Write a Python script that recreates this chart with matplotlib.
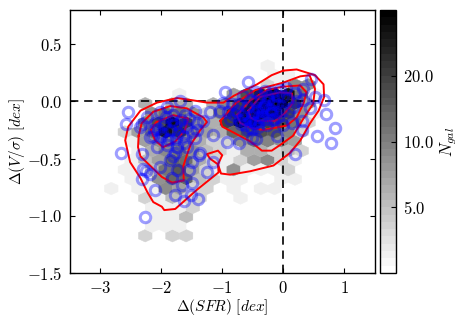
import numpy as np
import matplotlib
matplotlib.use('Agg')
import matplotlib.pyplot as plt
from matplotlib.colors import LogNorm

plt.rcParams['mathtext.fontset'] = 'cm'
plt.rcParams['font.family'] = ['cmr10', 'DejaVu Sans']
plt.rcParams['axes.formatter.use_mathtext'] = True

# hexagon counts, one entry per row of the grid
row_y = [-1.174, -1.091, -1.009, -0.926, -0.843, -0.761, -0.678, -0.596, -0.513,
         -0.430, -0.348, -0.265, -0.183, -0.100, -0.017, 0.065, 0.148, 0.230, 0.313]
row_x = [
    [-2.262, -1.816, -1.593],
    [-2.151, -1.928, -1.705],
    [-2.039, -1.816, -1.593],
    [-2.151, -1.928, -1.705, -1.482],
    [-2.262, -2.039, -1.816, -1.593, -1.370, -0.701],
    [-2.820, -2.373, -2.151, -1.928, -1.705, -1.482, -1.259, -0.813, -0.367, -0.144],
    [-2.485, -2.262, -2.039, -1.816, -1.593, -1.370, -1.147, -0.924, -0.701, -0.032, 0.191],
    [-2.597, -2.373, -2.151, -1.928, -1.705, -1.482, -1.259, -1.036, -0.813, -0.590, -0.367, -0.144, 0.079],
    [-2.485, -2.262, -2.039, -1.816, -1.593, -1.370, -1.147, -0.924, -0.701, -0.478, -0.255, -0.032, 0.191],
    [-2.373, -2.151, -1.928, -1.705, -1.482, -1.259, -1.036, -0.813, -0.590, -0.367, -0.144, 0.079, 0.302],
    [-2.485, -2.262, -2.039, -1.816, -1.593, -1.370, -1.147, -0.924, -0.701, -0.478, -0.255, -0.032, 0.191],
    [-2.597, -2.373, -2.151, -1.928, -1.705, -1.482, -1.259, -1.036, -0.813, -0.590, -0.367, -0.144, 0.079, 0.302],
    [-2.262, -2.039, -1.816, -1.593, -1.370, -1.147, -0.924, -0.701, -0.478, -0.255, -0.032, 0.191, 0.414],
    [-2.151, -1.928, -1.705, -1.482, -1.259, -1.036, -0.813, -0.590, -0.367, -0.144, 0.079, 0.302, 0.525],
    [-2.262, -1.816, -1.593, -1.147, -0.924, -0.701, -0.478, -0.255, -0.032, 0.191, 0.414],
    [-1.705, -0.813, -0.590, -0.367, -0.144, 0.079, 0.302, 0.525],
    [-0.255, -0.032, 0.191, 0.414],
    [-0.144, 0.079],
    [-0.144],
]
row_n = [
    [4, 4, 4],
    [3, 3, 3],
    [3, 3, 5],
    [3, 3, 3, 4],
    [4, 3, 5, 4, 4, 3],
    [3, 3, 3, 9, 7, 4, 4, 3, 3, 3],
    [3, 3, 8, 13, 13, 5, 4, 3, 3, 3, 3],
    [3, 3, 5, 11, 15, 7, 4, 3, 8, 3, 3, 3, 4],
    [3, 5, 7, 13, 12, 6, 4, 3, 4, 7, 9, 4, 3],
    [3, 6, 9, 11, 8, 5, 4, 3, 6, 6, 4, 5, 4],
    [3, 7, 8, 10, 9, 6, 4, 4, 8, 11, 10, 8, 7],
    [4, 7, 11, 30, 22, 10, 7, 6, 13, 17, 17, 15, 10, 4],
    [10, 17, 33, 19, 8, 6, 19, 33, 33, 19, 18, 11, 4],
    [8, 11, 11, 8, 4, 10, 22, 33, 36, 33, 18, 8, 3],
    [6, 6, 6, 6, 9, 19, 30, 36, 38, 19, 7],
    [3, 7, 17, 26, 36, 30, 11, 3],
    [4, 3, 9, 8],
    [3, 3],
    [3],
]

# galaxies, left group then right group
gal_x = [-2.55, -2.58, -2.66, -2.32, -1.70, -2.25, -2.18, -1.20, -0.95, -1.15, -0.92, -1.36,
         -1.50, -1.25, -1.74, -2.02, -2.07, -1.41, -1.31, -1.44, -1.74, -1.91, -2.18, -2.34,
         -1.41, -1.61, -1.80, -2.02, -2.23, -2.10, -2.13, -1.64, -1.50, -1.58, -1.80, -2.32,
         -2.30, -2.32, -1.85, -1.54, -1.38, -1.15, -1.82, -1.66, -1.50, -2.10, -1.77, -1.62,
         -1.51, -1.40, -2.26, -1.77, -1.55, -1.95, -1.70, -1.85, -2.00, -1.60, -1.75, -1.45,
         -1.90, -1.92, -1.82, -1.72, -2.05, -1.98, -1.88, -1.78, -1.68, -1.90, -2.12, -1.62,
         -0.58, 0.46, -0.73, -0.51, -0.45, -0.10, 0.31, 0.20, 0.56, 0.78, 0.84, 0.70, 0.67,
         0.52, 0.44, 0.00, 0.14, 0.31, -0.90, -0.84, -1.03, -0.87, -0.60, -0.27, -0.46, -0.68,
         -0.33, -0.16, -0.54, -0.38, -0.19, 0.00, 0.20, 0.33, -0.02, 0.16, 0.33, -0.74, -0.66,
         -0.43, -0.98, -0.75, -0.60, -0.50, -0.65, -0.55, -0.40, -0.30, -0.25, -0.45, -0.35,
         -0.20, -0.10, -0.10, -0.05, 0.08, 0.10, -0.15, -0.80, -0.70, -0.55, -0.30, -0.45,
         0.05, 0.22, -0.62, -0.52, -0.42, -0.32, -0.22, -0.12, -0.48, -0.38, -0.28, -0.18,
         -0.08, -0.72, -0.62, -0.52, -0.42, -0.35, -0.25, -0.15]
gal_y = [-0.09, -0.20, -0.45, -0.20, 0.00, -0.61, -0.63, -0.09, 0.08, -0.29, -0.35, -0.45,
         -0.53, -0.62, -0.60, -0.57, -0.40, -0.25, -0.17, -0.32, -0.40, -0.34, -0.31, -0.22,
         -0.19, -0.12, -0.12, -0.09, -0.14, -0.19, -0.30, -0.30, -0.27, -0.40, -0.48, -0.46,
         -0.59, -0.68, -0.51, -0.60, -0.47, -0.53, -0.67, -0.73, -0.71, -0.77, -0.82, -0.87,
         -0.82, -0.85, -1.01, -0.45, -0.15, -0.20, -0.22, -0.25, -0.30, -0.22, -0.33, -0.08,
         -0.05, -0.14, -0.17, -0.28, -0.24, -0.28, -0.33, -0.20, -0.16, -0.38, -0.25, -0.36,
         0.17, 0.20, -0.36, -0.32, -0.33, -0.30, -0.25, -0.46, -0.30, -0.36, -0.23, -0.11, 0.01,
         0.04, -0.06, -0.21, -0.19, -0.17, -0.09, -0.02, -0.08, -0.15, -0.24, -0.21, -0.19, -0.12,
         -0.08, -0.02, 0.01, 0.05, 0.08, 0.05, 0.07, 0.11, -0.08, -0.05, 0.01, -0.02, 0.05,
         -0.08, -0.01, -0.08, -0.05, -0.10, -0.15, -0.17, -0.14, -0.03, 0.02, 0.00, -0.12,
         -0.10, -0.03, 0.05, 0.10, 0.02, -0.08, -0.15, -0.12, -0.20, -0.22, 0.09, 0.08,
         0.12, 0.00, -0.10, -0.13, -0.06, -0.05, -0.07, -0.09, -0.19, -0.17, -0.15, -0.16,
         -0.14, -0.16, -0.21, -0.24, -0.22, -0.06, 0.05, 0.00]

# red density contours
outer_x = [0.00, 0.22, 0.52, 0.66, 0.67, 0.58, 0.44, 0.28, 0.11, -0.16, -0.54, -0.87, -1.02,
           -1.07, -1.00, -1.07, -1.25, -1.20, -1.07, -1.06, -1.41, -1.77, -1.95, -1.99, -2.13,
           -2.23, -2.34, -2.51, -2.59, -2.54, -2.34, -2.07, -1.74, -1.48, -1.25, -0.98, -0.81,
           -0.43, -0.19, 0.00]
outer_y = [0.27, 0.28, 0.23, 0.15, 0.04, -0.08, -0.19, -0.34, -0.45, -0.56, -0.61, -0.64, -0.63,
           -0.55, -0.47, -0.43, -0.46, -0.50, -0.55, -0.62, -0.77, -0.94, -0.95, -0.92, -0.88,
           -0.79, -0.67, -0.53, -0.34, -0.22, -0.08, -0.01, 0.03, 0.01, -0.01, -0.01, 0.05,
           0.15, 0.23, 0.27]
left_mid_x = [-2.37, -2.32, -2.13, -1.85, -1.58, -1.31, -1.25, -1.36, -1.52, -1.58, -1.64, -1.63,
              -1.82, -1.99, -2.34, -2.38, -2.37]
left_mid_y = [-0.30, -0.19, -0.09, -0.04, -0.06, -0.14, -0.18, -0.25, -0.38, -0.47, -0.57, -0.69,
              -0.71, -0.66, -0.48, -0.40, -0.30]
left_in_x = [-2.17, -2.08, -1.80, -1.56, -1.61, -1.77, -1.97, -2.10, -2.17]
left_in_y = [-0.25, -0.18, -0.12, -0.15, -0.25, -0.35, -0.40, -0.34, -0.25]
right_a_x = [-1.03, -0.79, -0.46, 0.00, 0.28, 0.43, 0.52, 0.49, 0.33, 0.16, -0.05, -0.19, -0.35,
             -0.54, -0.82, -1.00, -1.03]
right_a_y = [-0.17, -0.02, 0.10, 0.165, 0.22, 0.23, 0.11, -0.02, -0.15, -0.30, -0.38, -0.43, -0.43,
             -0.35, -0.27, -0.22, -0.17]
right_b_x = [-0.76, -0.54, -0.27, 0.00, 0.28, 0.38, 0.33, 0.22, 0.06, -0.33, -0.54, -0.70, -0.76]
right_b_y = [-0.12, 0.01, 0.10, 0.13, 0.14, 0.08, -0.02, -0.14, -0.21, -0.25, -0.23, -0.19, -0.12]
right_c_x = [-0.57, -0.38, -0.05, 0.14, 0.16, 0.03, -0.13, -0.43, -0.54, -0.57]
right_c_y = [-0.08, 0.04, 0.08, 0.07, -0.01, -0.10, -0.17, -0.17, -0.14, -0.08]

xticks = [-3, -2, -1, 0, 1]
xlabels = ['$-3$', '$-2$', '$-1$', '$0$', '$1$']
yticks = [-1.5, -1.0, -0.5, 0.0, 0.5]
ylabels = ['$-1.5$', '$-1.0$', '$-0.5$', '$0.0$', '$0.5$']
cbar_ticks = [5, 10, 20]
cbar_labels = ['$5.0$', '$10.0$', '$20.0$']

hex_x = np.concatenate(row_x)
hex_n = np.concatenate(row_n).astype(float)
hex_y = np.concatenate([[y] * len(x) for y, x in zip(row_y, row_x)])

fig = plt.figure(figsize=(4.63, 3.26), dpi=100)
ax = fig.add_axes([0.1505, 0.1626, 0.659, 0.8067])

cmap = plt.get_cmap('gray_r', 36)
hb = ax.hexbin(hex_x, hex_y, C=hex_n, reduce_C_function=np.sum, gridsize=(24, 16),
               extent=(-3.6, 1.752, -1.504, 1.136), cmap=cmap,
               norm=LogNorm(vmin=2.5, vmax=40), linewidths=0.3, edgecolors='face', zorder=1)

ax.axhline(0, color='k', ls='--', lw=1.2, dashes=(5, 3.5), zorder=2)
ax.axvline(0, color='k', ls='--', lw=1.2, dashes=(5, 3.5), zorder=2)

for cx, cy in [(outer_x, outer_y), (left_mid_x, left_mid_y), (left_in_x, left_in_y),
               (right_a_x, right_a_y), (right_b_x, right_b_y), (right_c_x, right_c_y)]:
    ax.plot(cx, cy, color='red', lw=1.4, zorder=3)

ax.plot(gal_x, gal_y, 'o', mfc='none', mec='blue', mew=2.2, ms=7.5, alpha=0.38, zorder=4)

ax.set_xlim(-3.5, 1.5)
ax.set_ylim(-1.5, 0.8)
ax.set_xticks(xticks)
ax.set_xticklabels(xlabels)
ax.set_yticks(yticks)
ax.set_yticklabels(ylabels)
ax.tick_params(direction='in', length=3.6, width=0.8, labelsize=12, top=True, right=True, pad=5)
ax.set_xlabel(r'$\Delta(SFR)\ [dex]$', fontsize=11, labelpad=1)
ax.set_ylabel(r'$\Delta(V/\sigma)\ [dex]$', fontsize=11, labelpad=0)
for s in ax.spines.values():
    s.set_linewidth(1.0)

cax = fig.add_axes([0.8207, 0.1626, 0.0346, 0.8067])
cb = fig.colorbar(hb, cax=cax)
cb.set_ticks(cbar_ticks)
cb.set_ticklabels(cbar_labels)
cb.ax.minorticks_off()
cb.ax.tick_params(direction='in', length=3.6, width=0.8, labelsize=12, pad=5)
cb.set_label('$N_{gal}$', fontsize=12, labelpad=3)
cb.outline.set_linewidth(1.0)

fig.savefig('out.png', dpi=100)
